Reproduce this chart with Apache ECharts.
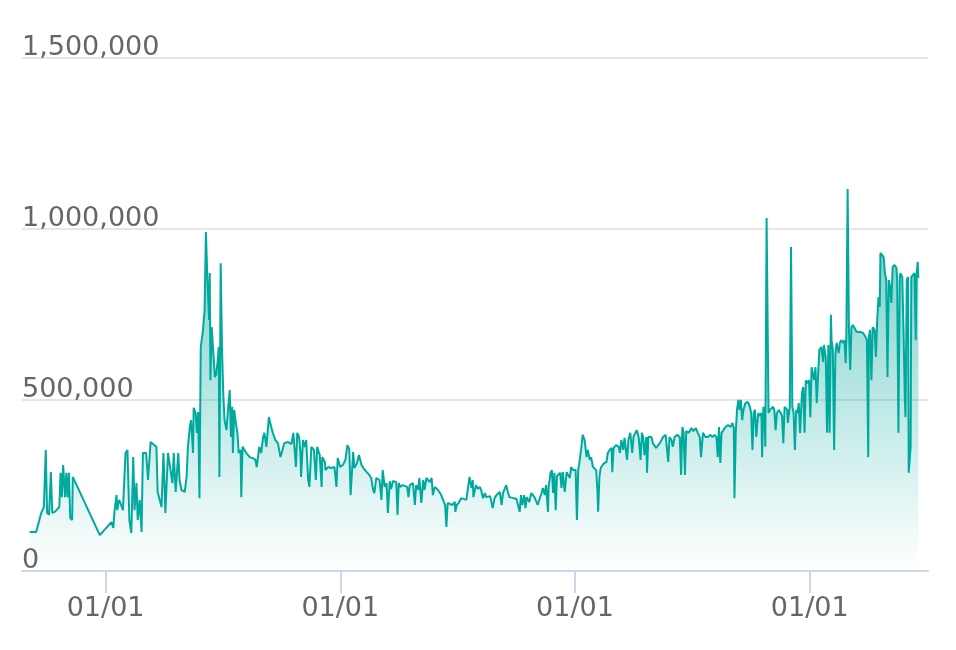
<!DOCTYPE html>
<html>
<head>
<meta charset="utf-8">
<title>chart</title>
<style>
  html, body { margin: 0; padding: 0; background: #fff; }
  #chart { width: 956px; height: 650px; }
</style>
<script src="https://cdn.jsdelivr.net/npm/echarts@6/dist/echarts.min.js"></script>
</head>
<body>
<div id="chart"></div>
<script>
// first day of the series, data points are counted in days from here
var startDate = [2016, 8, 5];
var axisStart = '2016-08-24';
var axisEnd = '2020-07-03';

var dayOffsets = [
  0, 10, 18, 22, 25, 27, 30, 33, 35, 39, 42, 46, 48, 50, 52, 55, 57, 59, 61, 63, 66, 67,
  109, 127, 130, 132, 135, 136, 139, 141, 145, 149, 152, 155, 158, 161, 163, 166, 168, 171, 174, 176, 181, 184, 188, 197, 199, 205, 208, 211, 215,
  218, 222, 224, 227, 231, 233, 236, 241, 244, 246, 249, 251, 254, 255, 258, 260, 262, 264, 266, 268, 269, 272, 274, 276, 278, 279, 280, 281, 283, 285, 287, 288, 290, 292, 294, 295, 297, 299, 301, 303, 306, 308, 311, 313, 315, 316, 318, 320, 323, 325, 328, 329, 331, 334, 337, 342, 347, 351, 353, 357, 360, 363, 365, 368, 372, 374, 378, 382, 386, 390, 393, 396, 402, 407, 410, 414, 416, 419, 421, 422, 425, 428, 430, 433, 435, 438, 442, 445, 447, 450,
  451, 454, 455, 459, 460, 464, 469, 474, 477, 479, 483, 487, 491, 494, 497, 499, 501, 503, 505, 509, 512, 516, 519, 524, 528, 531, 534, 536, 539, 542, 544, 547, 549, 552, 555, 557, 560, 562, 565, 570, 572, 574, 576, 580, 583, 587, 589, 591, 596, 599, 601, 604, 606, 609, 612, 614, 617, 622, 625, 627, 630, 635, 640, 644, 646, 648, 650, 653, 657, 661, 662, 664, 667, 671, 674, 679,
  684, 687, 689, 690, 694, 697, 700, 702, 705, 708, 710, 716, 720, 723, 726, 731, 734, 736, 741, 744, 746, 752, 757, 759, 762, 764, 766, 769, 771, 773, 777, 780, 783, 785, 790, 796, 798, 801, 803, 806, 807, 810, 812, 814, 816, 818, 820, 823, 825, 827, 829, 832, 835, 837, 840, 842, 845, 849, 851, 853, 855, 858, 860, 863, 866, 868, 871, 873, 876, 879, 881, 883, 884, 886, 888, 892, 897, 899, 902, 905, 906, 908, 912, 916,
  918, 920, 923, 925, 929, 931, 934, 937, 939, 942, 944, 947, 950, 952, 954, 956, 959, 960, 962, 967, 969, 974, 980, 985, 989, 993, 995, 998, 1000, 1003, 1007, 1011, 1013, 1015, 1017, 1019, 1021, 1025, 1029, 1032, 1036, 1039, 1042, 1044, 1047, 1051, 1055, 1058, 1062, 1065, 1068, 1070, 1072, 1074, 1076, 1079, 1082, 1086, 1090, 1093, 1095, 1096, 1098, 1100, 1102, 1104, 1106, 1108, 1110, 1113, 1117, 1120, 1122, 1124, 1126, 1128, 1130, 1133, 1135, 1138, 1139, 1141, 1143, 1144, 1146, 1149, 1151,
  1153, 1156, 1158, 1160, 1162, 1165, 1168, 1170, 1172, 1174, 1178, 1179, 1182, 1184, 1186, 1188, 1190, 1192, 1194, 1196, 1198, 1201, 1203, 1205, 1207, 1209, 1212, 1214, 1216, 1218, 1220, 1222, 1224, 1226, 1228, 1231, 1234, 1235, 1238, 1240, 1242, 1244, 1246, 1247, 1249, 1251, 1253, 1255, 1258, 1260, 1262, 1265, 1267, 1269, 1270, 1272, 1274, 1276, 1278, 1280, 1283, 1286, 1288, 1292, 1296, 1300, 1302, 1304, 1305, 1307, 1309, 1311, 1314, 1316, 1318, 1320, 1322, 1323, 1326, 1328, 1330, 1332, 1334, 1336, 1338, 1340, 1342, 1345, 1348, 1349, 1351, 1353, 1354, 1357, 1359, 1361, 1362, 1364, 1366, 1367, 1370, 1371, 1374, 1376, 1378, 1379, 1381, 1382
];

var values = [
  114000, 114000, 170000, 187000, 354000, 170000, 164000, 289000, 170000, 173000, 170000, 187000, 287000, 216000, 310000, 216000, 287000, 216000, 287000, 155000, 149000, 275000,
  105000, 143000, 126000, 178000, 222000, 178000, 208000, 199000, 178000, 345000, 354000, 149000, 111000, 333000, 178000, 257000, 149000, 208000, 114000, 345000, 345000, 266000, 377000, 363000, 231000, 187000, 345000, 170000, 345000,
  345000, 257000, 345000, 231000, 345000, 266000, 237000, 231000, 275000, 363000, 421000, 441000, 345000, 477000, 462000, 404000, 465000, 213000, 655000, 655000, 696000, 763000, 991000, 871000, 871000, 734000, 871000, 558000, 713000, 655000, 596000, 567000, 575000, 608000, 655000, 275000, 900000, 655000, 520000, 441000, 412000, 462000, 529000, 392000, 480000, 345000, 471000, 441000, 404000, 345000, 354000, 216000, 363000, 354000, 345000, 333000, 330000, 325000, 304000, 363000, 345000, 392000, 404000, 363000, 450000, 433000, 404000, 383000, 374000, 333000, 354000, 374000, 377000, 371000, 404000, 304000, 404000, 392000, 345000, 275000, 383000, 363000, 383000, 266000, 246000, 363000, 354000, 266000, 363000, 345000,
  339000, 246000, 333000, 319000, 295000, 304000, 301000, 304000, 246000, 330000, 304000, 310000, 325000, 368000, 357000, 222000, 222000, 348000, 301000, 316000, 339000, 310000, 301000, 289000, 281000, 272000, 237000, 228000, 272000, 275000, 266000, 208000, 295000, 246000, 257000, 170000, 263000, 240000, 263000, 260000, 164000, 257000, 246000, 251000, 251000, 246000, 216000, 251000, 257000, 193000, 251000, 237000, 272000, 199000, 266000, 237000, 272000, 260000, 272000, 222000, 246000, 237000, 222000, 202000, 193000, 129000, 199000, 199000, 193000, 202000, 173000, 193000, 199000, 213000, 208000, 208000,
  275000, 243000, 266000, 216000, 251000, 240000, 246000, 237000, 213000, 228000, 216000, 219000, 184000, 213000, 222000, 231000, 193000, 228000, 251000, 228000, 216000, 213000, 211000, 208000, 173000, 222000, 193000, 222000, 184000, 216000, 202000, 228000, 231000, 216000, 193000, 228000, 243000, 222000, 251000, 173000, 246000, 287000, 295000, 228000, 287000, 178000, 278000, 278000, 287000, 243000, 289000, 231000, 289000, 289000, 272000, 304000, 295000, 295000, 149000, 295000, 319000, 363000, 398000, 383000, 333000, 354000, 325000, 333000, 304000, 301000, 295000, 231000, 173000, 275000, 301000, 313000, 319000, 345000, 354000, 360000, 289000, 360000, 368000, 363000,
  345000, 383000, 354000, 389000, 325000, 383000, 404000, 345000, 392000, 404000, 412000, 392000, 325000, 404000, 392000, 339000, 392000, 287000, 392000, 392000, 374000, 360000, 374000, 392000, 398000, 319000, 392000, 383000, 363000, 392000, 398000, 392000, 281000, 421000, 404000, 281000, 409000, 404000, 418000, 409000, 418000, 404000, 392000, 333000, 404000, 392000, 392000, 398000, 392000, 398000, 392000, 333000, 421000, 316000, 404000, 404000, 421000, 427000, 421000, 433000, 418000, 213000, 404000, 471000, 500000, 471000, 500000, 441000, 471000, 491000, 494000, 480000, 462000, 354000, 462000, 471000, 392000, 462000, 453000, 462000, 333000, 480000, 462000, 363000, 1032000, 462000, 471000,
  471000, 480000, 471000, 412000, 462000, 471000, 462000, 453000, 374000, 480000, 471000, 433000, 480000, 947000, 480000, 462000, 354000, 471000, 462000, 491000, 404000, 520000, 538000, 404000, 558000, 549000, 558000, 450000, 596000, 596000, 558000, 596000, 491000, 570000, 646000, 655000, 611000, 661000, 626000, 404000, 661000, 404000, 749000, 675000, 646000, 354000, 637000, 667000, 637000, 667000, 675000, 667000, 675000, 608000, 684000, 1117000, 713000, 588000, 713000, 719000, 710000, 699000, 696000, 699000, 696000, 684000, 675000, 333000, 684000, 705000, 558000, 713000, 705000, 626000, 734000, 801000, 772000, 930000, 930000, 918000, 871000, 851000, 567000, 851000, 830000, 784000, 889000, 895000, 886000, 851000, 404000, 851000, 871000, 860000, 699000, 500000, 450000, 851000, 860000, 287000, 363000, 860000, 860000, 871000, 675000, 860000, 904000, 857000
];

var yMin = 0;
var yMax = 1500000;
var yStep = 500000;

var chart = echarts.init(document.getElementById('chart'));

var base = new Date(startDate[0], startDate[1], startDate[2]).getTime();
var seriesData = [];
for (var i = 0; i < dayOffsets.length; i++) {
  seriesData.push([base + dayOffsets[i] * 86400000, values[i]]);
}

var labelFont = 'DejaVu Sans';

var option = {
  animation: false,
  backgroundColor: '#fff',
  grid: {
    left: 22,
    right: 28,
    top: 58,
    bottom: 79
  },
  xAxis: {
    type: 'time',
    min: axisStart,
    max: axisEnd,
    minInterval: 365 * 86400000,
    maxInterval: 366 * 86400000,
    axisLine: { lineStyle: { color: '#ccd6eb', width: 2 } },
    axisTick: { show: true, length: 22, lineStyle: { color: '#ccd6eb', width: 2 } },
    splitLine: { show: false },
    axisLabel: {
      formatter: '{MM}/{dd}',
      color: '#666',
      fontSize: 27,
      fontFamily: labelFont,
      margin: 24
    }
  },
  yAxis: {
    type: 'value',
    min: yMin,
    max: yMax,
    interval: yStep,
    axisLine: { show: false },
    axisTick: { show: false },
    splitLine: { lineStyle: { color: '#e6e6e6', width: 2 } },
    axisLabel: {
      inside: true,
      margin: 0,
      verticalAlign: 'bottom',
      lineHeight: 21,
      color: '#666',
      fontSize: 27,
      fontFamily: labelFont,
      formatter: function (v) { return v.toLocaleString('en-US'); }
    }
  },
  series: [{
    type: 'line',
    data: seriesData,
    showSymbol: false,
    symbol: 'none',
    lineStyle: { color: '#00a99d', width: 2 },
    areaStyle: {
      color: new echarts.graphic.LinearGradient(0, 0, 0, 1, [
        { offset: 0, color: 'rgba(0,168,157,0.85)' },
        { offset: 1, color: 'rgba(0,168,157,0.0)' }
      ])
    }
  }]
};

chart.setOption(option);
</script>
</body>
</html>
